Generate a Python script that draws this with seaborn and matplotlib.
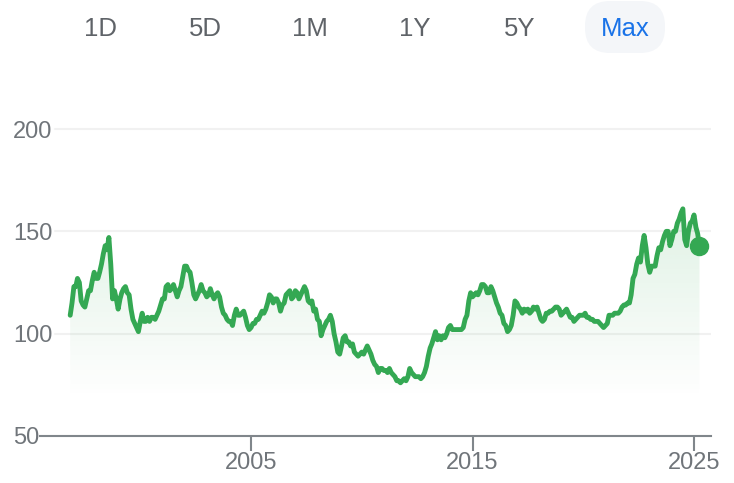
import numpy as np
import pandas as pd
import matplotlib
matplotlib.use("Agg")
import matplotlib.pyplot as plt
import matplotlib.dates as mdates
from matplotlib.patches import FancyBboxPatch
import seaborn as sns

# ---------------------------------------------------------------
# Data: monthly rate, Nov 1996 -> Apr 2025
# ---------------------------------------------------------------
START = "1996-11-01"
rates = [
    109, 115,                                                    # 1996
    123, 123, 127, 125, 116, 114, 113, 117, 121, 121, 126, 130,  # 1997
    127, 127, 130, 134, 139, 143, 141, 147, 134, 117, 121, 117,  # 1998
    112, 117, 120, 122, 123, 120, 119, 112, 107, 105, 103, 101,  # 1999
    106, 110, 106, 106, 108, 106, 108, 108, 107, 109, 111, 114,  # 2000
    117, 117, 123, 124, 121, 122, 124, 121, 118, 121, 123, 128,  # 2001
    133, 133, 131, 130, 125, 119, 117, 119, 121, 124, 121, 120,  # 2002
    118, 119, 122, 119, 117, 119, 120, 118, 113, 110, 109, 107,  # 2003
    106, 106, 104, 109, 112, 109, 109, 110, 111, 108, 104, 102,  # 2004
    103, 105, 105, 107, 107, 109, 111, 110, 112, 115, 119, 118,  # 2005
    115, 117, 117, 115, 111, 114, 115, 119, 120, 121, 117, 118,  # 2006
    121, 120, 117, 119, 121, 123, 121, 116, 115, 116, 111, 112,  # 2007
    107, 106, 99, 102, 104, 106, 107, 109, 106, 100, 96, 91,     # 2008
    90, 94, 98, 99, 96, 96, 94, 95, 91, 90, 89, 90,              # 2009
    91, 90, 92, 94, 92, 90, 87, 85, 84, 81, 83, 83,              # 2010
    82, 82, 81, 83, 81, 80, 79, 77, 77, 76, 77, 78,              # 2011
    77, 79, 83, 81, 80, 79, 79, 79, 78, 79, 81, 84,              # 2012
    89, 93, 95, 98, 101, 97, 99, 97, 99, 98, 100, 103,           # 2013
    104, 102, 102, 102, 102, 102, 102, 103, 107, 109, 116, 120,  # 2014
    118, 119, 120, 119, 121, 124, 124, 123, 120, 120, 123, 121,  # 2015
    118, 115, 113, 110, 109, 105, 104, 101, 102, 104, 109, 116,  # 2016
    115, 113, 112, 110, 112, 111, 112, 110, 111, 113, 112, 113,  # 2017
    110, 107, 106, 107, 110, 110, 111, 111, 112, 113, 113, 112,  # 2018
    109, 110, 111, 112, 110, 108, 108, 106, 107, 108, 109, 109,  # 2019
    109, 110, 108, 108, 107, 107, 106, 106, 106, 105, 104, 103,  # 2020
    104, 105, 109, 109, 109, 110, 110, 110, 111, 113, 114, 114,  # 2021
    115, 115, 119, 127, 129, 134, 137, 135, 143, 148, 142, 134,  # 2022
    130, 133, 133, 133, 138, 142, 141, 145, 148, 150, 150, 143,  # 2023
    146, 150, 150, 154, 156, 159, 161, 146, 143, 150, 154, 155,  # 2024
    158, 152, 149, 143,                                          # 2025
]
dates = pd.date_range(START, periods=len(rates), freq="MS")
df = pd.DataFrame({"date": dates, "rate": rates})

y_ticks = [50, 100, 150, 200]
x_ticks = ["2005-01-01", "2015-01-01", "2025-01-01"]
x_tick_labels = ["2005", "2015", "2025"]
ranges = ["1D", "5D", "1M", "1Y", "5Y", "Max"]
range_x = [101, 205, 310, 415, 520, 625]  # pixel centres of the range buttons

GREEN = "#34a853"
GREY = "#70757a"
FILL_FLOOR = 71

# ---------------------------------------------------------------
# Figure
# ---------------------------------------------------------------
sns.set_theme(style="white")
plt.rcParams["font.family"] = ["Liberation Sans", "DejaVu Sans"]

W, H = 734, 483
fig = plt.figure(figsize=(W / 100, H / 100), dpi=100)
ax = fig.add_axes([40 / W, 1 - 436 / H, 671 / W, 326 / H])

sns.lineplot(data=df, x="date", y="rate", color=GREEN, linewidth=3.5, ax=ax, zorder=4)
ax.plot(dates[-1], rates[-1], "o", color=GREEN, markersize=13, zorder=5)

# gradient fill under the line
fill = ax.fill_between(df["date"], df["rate"], FILL_FLOOR, color="none", linewidth=0)
top = 170
alpha = np.linspace(0.17, 0.005, 256)
rgba = np.zeros((256, 1, 4))
rgba[..., :3] = matplotlib.colors.to_rgb(GREEN)
rgba[:, 0, 3] = alpha
x0, x1 = mdates.date2num(dates[0]), mdates.date2num(dates[-1])
img = ax.imshow(rgba, extent=[x0, x1, FILL_FLOOR, top], aspect="auto",
                origin="upper", zorder=2, interpolation="bicubic")
img.set_clip_path(fill.get_paths()[0], transform=ax.transData)

# axes limits (1995.47 .. 2025.77, 50 .. 209)
ax.set_xlim(pd.Timestamp("1995-06-22"), pd.Timestamp("2025-10-08"))
ax.set_ylim(50, 209.3)

# grid lines start a bit right of the axis
for v in y_ticks[1:]:
    ax.axhline(v, xmin=15 / 671, xmax=1, color="#f1f1f1", linewidth=1.5, zorder=1)

ax.set_yticks(y_ticks)
ax.set_yticklabels([str(v) for v in y_ticks])
for lab in ax.get_yticklabels():
    lab.set_horizontalalignment("left")
ax.tick_params(axis="y", length=0, pad=19.4, labelsize=17, labelcolor=GREY)

ax.set_xticks(pd.to_datetime(x_ticks))
ax.set_xticklabels(x_tick_labels)
ax.tick_params(axis="x", length=10.8, width=1.5, color="#80868b", pad=1,
               labelsize=17, labelcolor=GREY, bottom=True)

for s in ["top", "right", "left"]:
    ax.spines[s].set_visible(False)
ax.spines["bottom"].set_color("#80868b")
ax.spines["bottom"].set_linewidth(1.5)
ax.set_xlabel("")
ax.set_ylabel("")

# range selector row
pill = FancyBboxPatch((585, H - 53), 80, 52, boxstyle="round,pad=0,rounding_size=25",
                      transform=None, facecolor="#f4f6f9", edgecolor="none")
fig.patches.append(pill)
for lab, cx in zip(ranges, range_x):
    fig.text(cx / W, 1 - 29 / H, lab, ha="center", va="center", fontsize=18.5,
             color="#1a73e8" if lab == "Max" else "#5f6368")

fig.savefig("out.png", dpi=100)
